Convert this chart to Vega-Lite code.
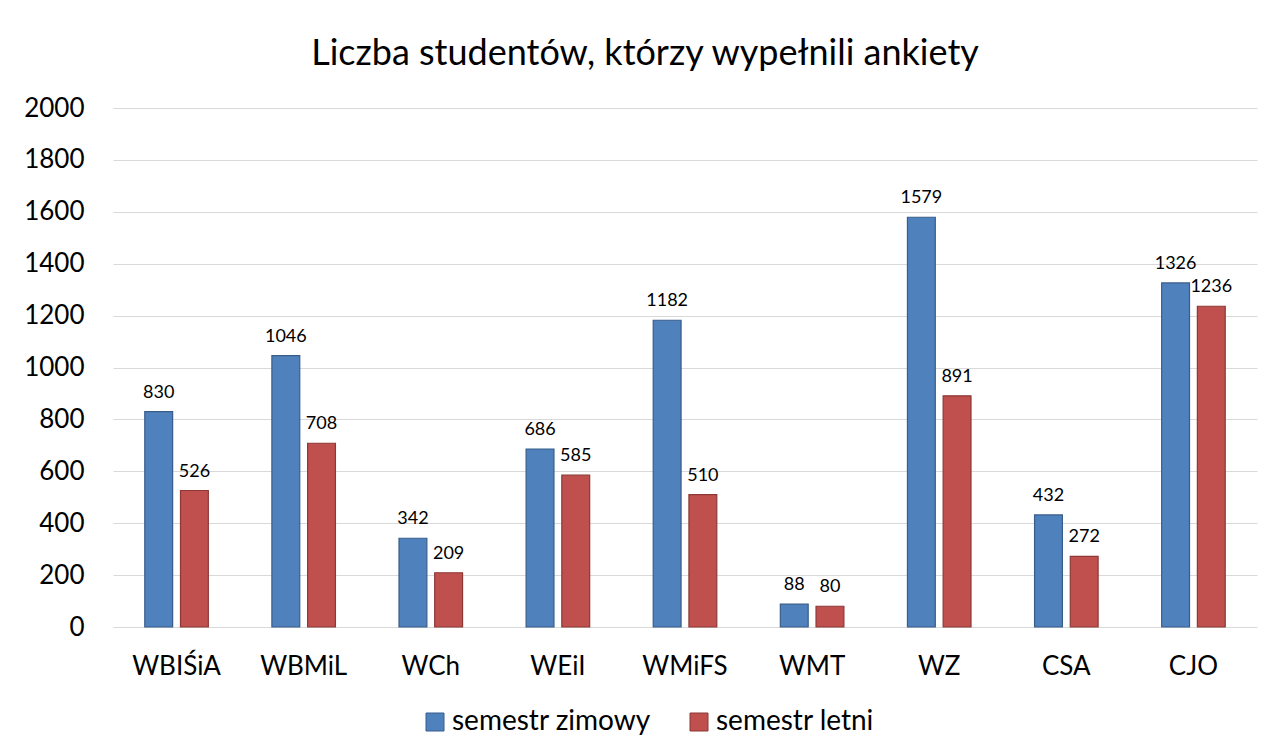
{
  "$schema": "https://vega.github.io/schema/vega-lite/v6.json",
  "width": 1144,
  "height": 519,
  "autosize": {"type": "none"},
  "padding": {"left": 113, "top": 108, "right": 14, "bottom": 127},
  "background": "white",
  "config": {"view": {"stroke": null}},
  "title": {
    "text": "Liczba studentów, którzy wypełnili ankiety",
    "font": "Lato",
    "fontSize": 36,
    "fontWeight": "normal",
    "color": "#000000",
    "anchor": "middle",
    "frame": "group",
    "dx": -40,
    "offset": 22
  },
  "data": {
    "values": [
      {"wydzial": "WBIŚiA", "semestr": "semestr zimowy", "liczba": 830},
      {"wydzial": "WBIŚiA", "semestr": "semestr letni", "liczba": 526},
      {"wydzial": "WBMiL", "semestr": "semestr zimowy", "liczba": 1046},
      {"wydzial": "WBMiL", "semestr": "semestr letni", "liczba": 708},
      {"wydzial": "WCh", "semestr": "semestr zimowy", "liczba": 342},
      {"wydzial": "WCh", "semestr": "semestr letni", "liczba": 209},
      {"wydzial": "WEiI", "semestr": "semestr zimowy", "liczba": 686},
      {"wydzial": "WEiI", "semestr": "semestr letni", "liczba": 585},
      {"wydzial": "WMiFS", "semestr": "semestr zimowy", "liczba": 1182},
      {"wydzial": "WMiFS", "semestr": "semestr letni", "liczba": 510},
      {"wydzial": "WMT", "semestr": "semestr zimowy", "liczba": 88},
      {"wydzial": "WMT", "semestr": "semestr letni", "liczba": 80},
      {"wydzial": "WZ", "semestr": "semestr zimowy", "liczba": 1579},
      {"wydzial": "WZ", "semestr": "semestr letni", "liczba": 891},
      {"wydzial": "CSA", "semestr": "semestr zimowy", "liczba": 432},
      {"wydzial": "CSA", "semestr": "semestr letni", "liczba": 272},
      {"wydzial": "CJO", "semestr": "semestr zimowy", "liczba": 1326},
      {"wydzial": "CJO", "semestr": "semestr letni", "liczba": 1236}
    ]
  },
  "encoding": {
    "x": {
      "field": "wydzial",
      "type": "nominal",
      "sort": null,
      "scale": {"paddingInner": 0.5, "paddingOuter": 0.25},
      "axis": {
        "title": null,
        "labelAngle": 0,
        "labelFont": "Lato",
        "labelFontSize": 26,
        "labelColor": "#000000",
        "labelPadding": 26,
        "ticks": false,
        "domain": false,
        "grid": false
      }
    },
    "xOffset": {
      "field": "semestr",
      "type": "nominal",
      "sort": ["semestr zimowy", "semestr letni"],
      "scale": {"paddingInner": 0.22}
    },
    "y": {
      "field": "liczba",
      "type": "quantitative",
      "scale": {"domain": [0, 2000], "nice": false},
      "axis": {
        "title": null,
        "format": "d",
        "values": [0, 200, 400, 600, 800, 1000, 1200, 1400, 1600, 1800, 2000],
        "labelFont": "Lato",
        "labelFontSize": 26,
        "labelColor": "#000000",
        "labelPadding": 29,
        "ticks": false,
        "domain": false,
        "grid": true,
        "gridColor": "#D9D9D9",
        "gridWidth": 1
      }
    }
  },
  "layer": [
    {
      "mark": {"type": "bar", "strokeWidth": 1.2},
      "encoding": {
        "fill": {
          "field": "semestr",
          "type": "nominal",
          "sort": ["semestr zimowy", "semestr letni"],
          "scale": {"domain": ["semestr zimowy", "semestr letni"], "range": ["#4F81BD", "#C0504D"]},
          "legend": {
            "title": null,
            "orient": "none",
            "legendX": 308,
            "legendY": 600,
            "direction": "horizontal",
            "symbolType": "square",
            "symbolSize": 324,
            "symbolStrokeWidth": 1,
            "labelFont": "Lato",
            "labelFontSize": 28,
            "labelLimit": 400,
            "labelColor": "#000000",
            "labelOffset": 3,
            "columnPadding": 34
          }
        },
        "stroke": {
          "field": "semestr",
          "type": "nominal",
          "sort": ["semestr zimowy", "semestr letni"],
          "scale": {"domain": ["semestr zimowy", "semestr letni"], "range": ["#385D8A", "#8C3836"]}
        }
      }
    },
    {
      "mark": {"type": "text", "font": "Lato", "fontSize": 18, "color": "#000000", "baseline": "alphabetic", "dy": -14},
      "encoding": {
        "text": {"field": "liczba", "type": "quantitative"}
      }
    }
  ]
}
